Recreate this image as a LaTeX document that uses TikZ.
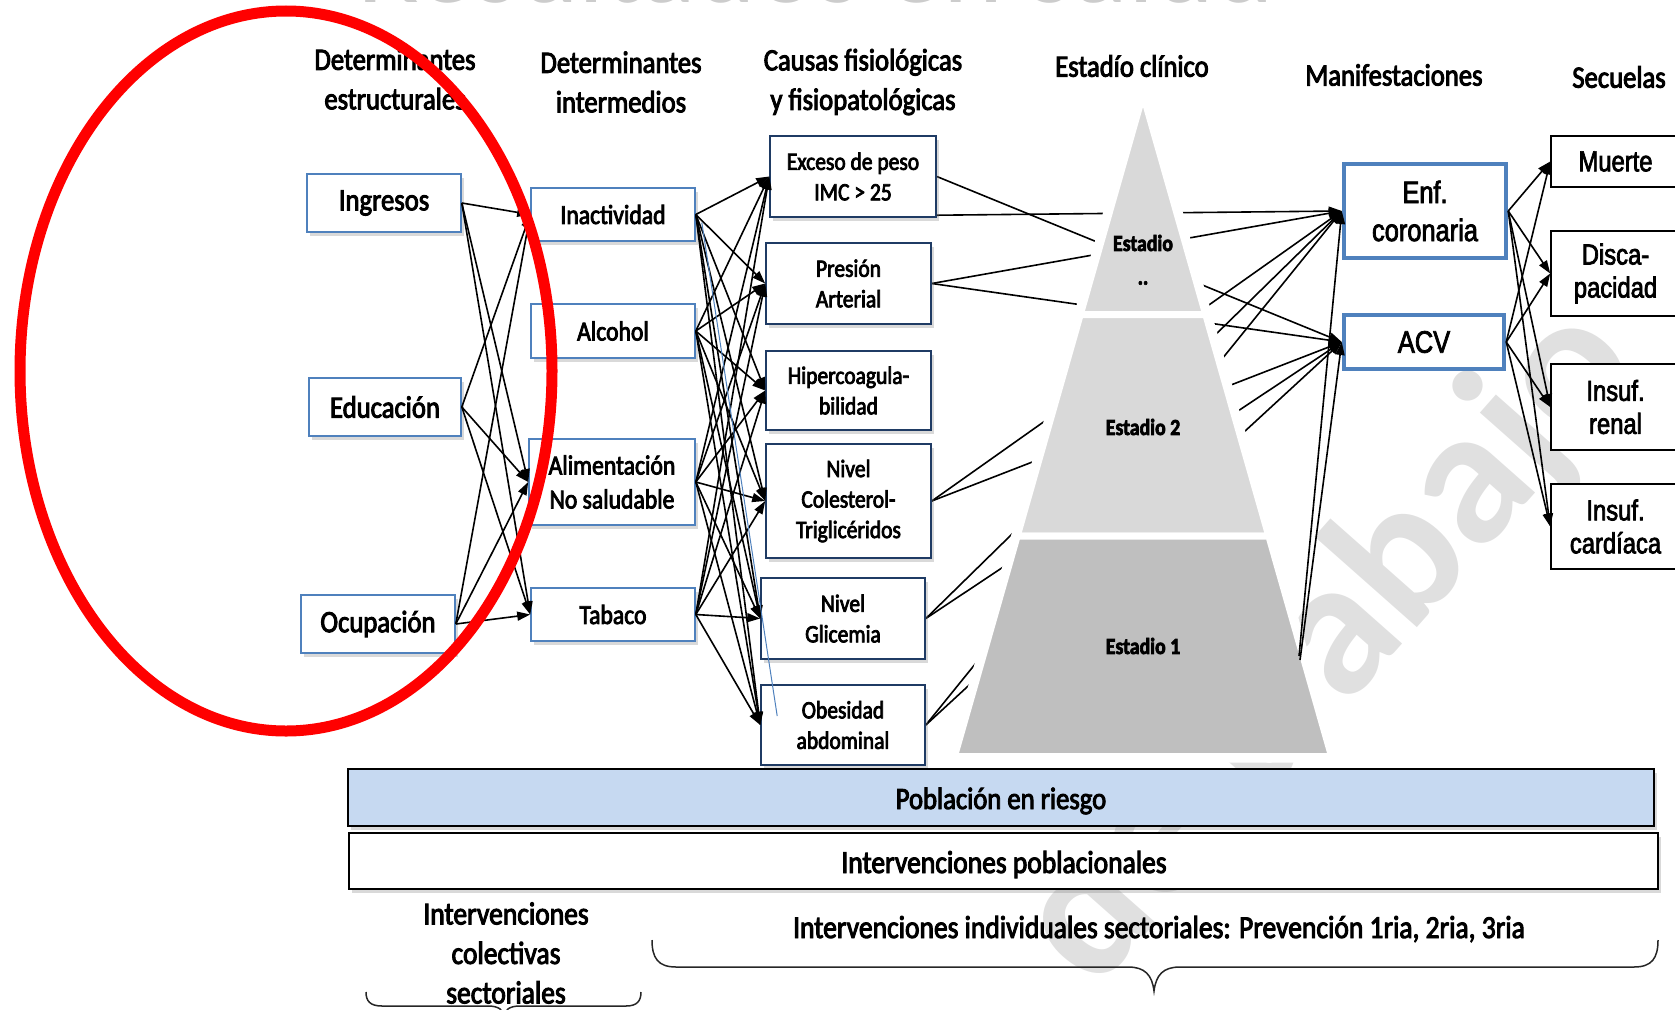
\documentclass[tikz,border=0pt]{standalone}
\usepackage{fontspec}
\setmainfont{Carlito}[FakeStretch=0.86,FakeBold=3]
\newfontfamily\plaincal{Carlito}
\newfontfamily\narrowsans{Liberation Sans}[FakeStretch=0.82,FakeBold=2.5]
\usetikzlibrary{arrows.meta,shadows}
\definecolor{boxblue}{HTML}{4F81BD}
\definecolor{navy}{HTML}{1F3B64}
\definecolor{pyrlight}{HTML}{D9D9D9}
\definecolor{pyrdark}{HTML}{BFBFBF}
\definecolor{riskblue}{HTML}{C6D9F1}
\definecolor{wmgray}{HTML}{E0E0E0}
\definecolor{titlegray}{HTML}{CCCCCC}
\pgfdeclarelayer{wm}
\pgfdeclarelayer{behind}
\pgfdeclarelayer{pyr}
\pgfsetlayers{wm,behind,pyr,main}
\begin{document}
\begin{tikzpicture}[x=1pt,y=-1pt,
  hdr/.style={font=\fontsize{31}{39.5}\selectfont, align=center, inner sep=0pt},
  softshadow/.style={drop shadow={shadow xshift=3pt,shadow yshift=-4pt,opacity=0.3}},
  b1/.style={draw=boxblue, line width=1.6pt, fill=white, inner sep=0pt, align=center,
             softshadow, font=\fontsize{31}{36}\selectfont},
  b2/.style={b1, font=\fontsize{27.5}{34}\selectfont},
  b3/.style={b1, draw=navy, font=\fontsize{25}{30.5}\selectfont},
  bm/.style={draw=boxblue, line width=4.5pt, fill=white, inner sep=0pt, align=center,
             font=\narrowsans\fontsize{31}{38}\selectfont},
  bs/.style={draw=black, line width=1.6pt, fill=white, inner sep=0pt, align=center,
             font=\narrowsans\fontsize{29}{33}\selectfont},
  bar/.style={draw=black, line width=1.8pt, inner sep=0pt, softshadow},
  bartext/.style={anchor=base, inner sep=0pt, font=\fontsize{32}{36}\selectfont},
  conn/.style={-{Triangle[length=13pt,width=9pt]}, line width=1.6pt},
  pyrlabel/.style={font=\bfseries\fontsize{23}{27}\selectfont, inner sep=0pt, align=center},
  brace/.style={line width=1.5pt, black!85}
]
\useasboundingbox (0,0) rectangle (1675,1009);

% watermark and cut-off title
\begin{pgfonlayer}{wm}
  \node[font=\plaincal\bfseries\fontsize{195}{195}\selectfont, text=wmgray,
        rotate=48.5, anchor=base east, inner sep=0pt] (wmark) at (1645,370) {de trabajo};
  \node[font=\plaincal\fontsize{114}{114}\selectfont, text=titlegray,
        anchor=base, inner sep=0pt] (title) at (816,2) {Resultados en salud};
\end{pgfonlayer}

% column headers
\node[hdr] (h1) at (395,79) {Determinantes\\estructurales};
\node[hdr] (h2) at (621,82) {Determinantes\\intermedios};
\node[hdr] (h3) at (863,82) {Causas fisiológicas\\y fisiopatológicas};
\node[hdr] (h4) at (1132,66) {Estadío clínico};
\node[hdr] (h5) at (1394,75) {Manifestaciones};
\node[hdr] (h6) at (1619,77) {Secuelas};

% structural determinants
\node[b1, minimum width=154pt, minimum height=58pt] (ing) at (384,203) {Ingresos};
\node[b1, minimum width=152pt, minimum height=58pt] (edu) at (385,407) {Educación};
\node[b1, minimum width=154pt, minimum height=58pt] (ocu) at (378,624) {Ocupación};

% intermediate determinants
\node[b2, minimum width=164pt, minimum height=53pt] (inac) at (613,214.5) {Inactividad};
\node[b2, minimum width=164pt, minimum height=54pt] (alc) at (613,331) {Alcohol};
\node[b2, minimum width=166pt, minimum height=86pt] (alim) at (612,482) {Alimentación\\No saludable};
\node[b2, minimum width=164pt, minimum height=53pt] (tab) at (613,614.5) {Tabaco};

% physiological causes
\node[b3, minimum width=166pt, minimum height=81pt] (exc) at (853,176.5) {Exceso de peso\\IMC > 25};
\node[b3, minimum width=165pt, minimum height=81pt] (pres) at (848.5,283.5) {Presión\\Arterial};
\node[b3, minimum width=165pt, minimum height=79pt] (hip) at (848.5,390.5) {Hipercoagula-\\bilidad};
\node[b3, minimum width=165pt, minimum height=114pt] (col) at (848.5,501) {Nivel\\Colesterol-\\Triglicéridos};
\node[b3, minimum width=164pt, minimum height=81pt] (gli) at (843,618.5) {Nivel\\Glicemia};
\node[b3, minimum width=164pt, minimum height=80pt] (obe) at (843,725) {Obesidad\\abdominal};

% manifestations
\node[bm, minimum width=162pt, minimum height=94pt] (enf) at (1425,211) {Enf.\\coronaria};
\node[bm, minimum width=160pt, minimum height=54pt] (acv) at (1424,342) {ACV};

% sequelae
\node[bs, minimum width=129pt, minimum height=51pt] (mue) at (1615.5,161.5) {Muerte};
\node[bs, minimum width=129pt, minimum height=85pt] (dis) at (1615.5,273.5) {Disca-\\pacidad};
\node[bs, minimum width=129pt, minimum height=86pt] (ren) at (1615.5,407) {Insuf.\\renal};
\node[bs, minimum width=129pt, minimum height=85pt] (car) at (1615.5,526.5) {Insuf.\\cardíaca};

% bottom bars
\node[bar, fill=riskblue, minimum width=1306pt, minimum height=57pt] (pob) at (1001,797.5) {};
\node[bartext, font=\fontsize{31}{36}\selectfont] (pobt) at (1001,809) {Población en riesgo};
\node[bar, fill=white, minimum width=1309pt, minimum height=56pt] (ipob) at (1003.5,861) {};
\node[bartext] (ipobt) at (1004,873) {Intervenciones poblacionales};
\node[bartext] (iind) at (1159,938) {Intervenciones individuales sectoriales: Prevención 1ria, 2ria, 3ria};
\node[hdr, font=\fontsize{32}{39.5}\selectfont] (icol) at (506,953) {Intervenciones\\colectivas\\sectoriales};

% braces
\draw[brace] (652,940) .. controls (652,958) and (658,967) .. (676,967) -- (1128,967)
  .. controls (1145,967) and (1152,975) .. (1154,991)
  .. controls (1156,975) and (1163,967) .. (1180,967) -- (1634,967)
  .. controls (1652,967) and (1658,958) .. (1658,940);
\draw[brace] (366,992) .. controls (366,1001) and (370,1006) .. (382,1006) -- (488,1006)
  .. controls (499,1006) and (503,1010) .. (504,1016)
  .. controls (505,1010) and (509,1006) .. (520,1006) -- (626,1006)
  .. controls (637,1006) and (641,1001) .. (641,992);

% structural -> intermediate
\foreach \s in {ing,edu,ocu}
  \foreach \t in {inac,alim,tab}
    \draw[conn] (\s.east) -- (\t.west);

% intermediate -> physiological
\foreach \s in {inac,alc,alim,tab}
  \foreach \t in {exc,pres,hip,col,gli,obe}
    \draw[conn] (\s.east) -- (\t.west);
\coordinate (bl1) at ([shift={(6,8)}]inac.east);
\coordinate (bl2) at ([shift={(17,-9)}]obe.west);
\draw[boxblue, line width=1pt] (bl1) -- (bl2);

% physiological -> manifestations (passing behind the pyramid)
\begin{pgfonlayer}{behind}
  \coordinate (excb) at (910,215.5);
  \draw[conn] (excb) -- (enf.west);
  \draw[conn] (exc.east) -- (acv.west);
  \foreach \s in {pres,col,gli,obe} {
    \draw[conn] (\s.east) -- (enf.west);
    \draw[conn] (\s.east) -- (acv.west);
  }
\end{pgfonlayer}

% clinical stage pyramid
\begin{pgfonlayer}{pyr}
  \path[fill=white, draw=white, line width=12pt]
    (1143,94.2) -- (1331.62,756.5) -- (954.38,756.5) -- cycle;
  \path[fill=pyrlight, draw=white, line width=7pt]
    (1143,94.2) -- (1205.74,314.5) -- (1080.26,314.5) -- cycle;
  \path[fill=pyrlight, draw=white, line width=7pt]
    (1080.26,314.5) -- (1205.74,314.5) -- (1268.82,536) -- (1017.18,536) -- cycle;
  \path[fill=pyrdark, draw=white, line width=7pt]
    (1017.18,536) -- (1268.82,536) -- (1331.62,756.5) -- (954.38,756.5) -- cycle;
\end{pgfonlayer}
\node[pyrlabel] (st3) at (1143,243) {Estadio};
\node[pyrlabel] (st3b) at (1143,283) {..};
\node[pyrlabel] (st2) at (1143,427) {Estadio 2};
\node[pyrlabel] (st1) at (1143,646) {Estadio 1};

% stage 1 -> manifestations
\coordinate (s1a) at (1299,656);
\coordinate (s1b) at (1300,660);
\draw[conn] (s1a) -- (enf.west);
\draw[conn] (s1b) -- (acv.west);

% manifestations -> sequelae
\foreach \s in {enf,acv}
  \foreach \t in {mue,dis,ren,car}
    \draw[conn] (\s.east) -- (\t.west);

% highlight ring
\coordinate (ringc) at (286,371);
\draw[red, line width=11pt] (ringc) ellipse [x radius=266, y radius=360];
\end{tikzpicture}
\end{document}
